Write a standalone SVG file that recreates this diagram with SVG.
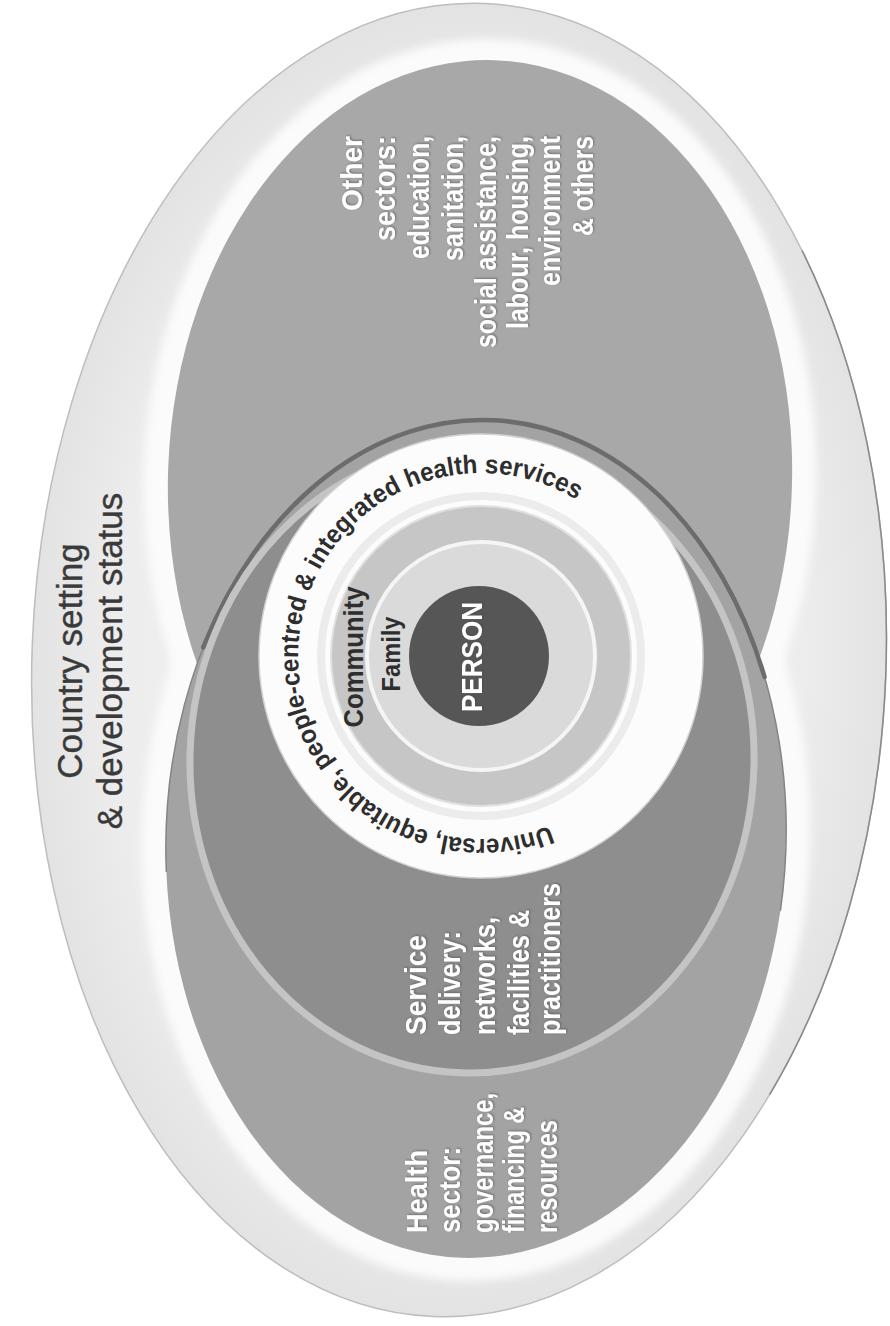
<svg xmlns="http://www.w3.org/2000/svg" width="890" height="1326" viewBox="0 0 890 1326">
  <defs>
    <radialGradient id="outerGrad" cx="50%" cy="50%" r="50%">
      <stop offset="0%" stop-color="#f3f3f3"/>
      <stop offset="80%" stop-color="#ededed"/>
      <stop offset="100%" stop-color="#e3e3e3"/>
    </radialGradient>
    <filter id="soft" x="-10%" y="-10%" width="120%" height="120%">
      <feGaussianBlur stdDeviation="4"/>
    </filter>
    <filter id="shadow" x="-20%" y="-20%" width="140%" height="140%">
      <feDropShadow dx="1" dy="1" stdDeviation="0.8" flood-color="#444" flood-opacity="0.55"/>
    </filter>
    <path id="ringPath" d="M549.6,825.7 A183,183 0 1 1 575.3,499.1"/>
    <style>
      .white-label { font-family: "Liberation Sans", Arial, sans-serif; font-weight: bold; font-size: 30px; fill: #ffffff; filter: url(#shadow); }
      .dark-label { font-family: "Liberation Sans", Arial, sans-serif; font-weight: bold; fill: #2e2e2e; }
      .country-label { font-family: "Liberation Sans", Arial, sans-serif; font-size: 35px; fill: #3a3a3a; stroke: #3a3a3a; stroke-width: 0.4px; }
    </style>
  </defs>

  <rect width="890" height="1326" fill="#ffffff"/>

  <g id="country-setting">
    <ellipse cx="459" cy="660" rx="427" ry="657" fill="url(#outerGrad)" stroke="#bdbdbd" stroke-width="1.5" transform="rotate(2.2 459 660)"/>
    <path d="M786.1,237.6 A427,657 0 0 1 786.1,1082.4" fill="none" stroke="#8a8a8a" stroke-width="1.5" transform="rotate(2.2 459 660)"/>
    <ellipse cx="480" cy="479" rx="336" ry="440" fill="#fbfbfb" filter="url(#soft)" transform="rotate(2 480 479)"/>
    <ellipse cx="476" cy="839" rx="334" ry="442" fill="#fbfbfb" filter="url(#soft)" transform="rotate(2 476 839)"/>
    <g transform="rotate(-90)">
      <text class="country-label" x="-661" y="82" text-anchor="middle">Country setting</text>
      <text class="country-label" x="-661" y="122" text-anchor="middle">&amp; development status</text>
    </g>
  </g>

  <g id="other-sectors">
    <ellipse cx="480" cy="479" rx="312" ry="419" fill="#a8a8a8" transform="rotate(2 480 479)"/>
    <g transform="rotate(-90)">
      <text class="white-label" x="-136" y="362" text-anchor="end" textLength="75" lengthAdjust="spacingAndGlyphs">Other</text>
      <text class="white-label" x="-136" y="395" text-anchor="end" textLength="105" lengthAdjust="spacingAndGlyphs">sectors:</text>
      <text class="white-label" x="-136" y="429" text-anchor="end" textLength="123" lengthAdjust="spacingAndGlyphs">education,</text>
      <text class="white-label" x="-136" y="463" text-anchor="end" textLength="125" lengthAdjust="spacingAndGlyphs">sanitation,</text>
      <text class="white-label" x="-136" y="496" text-anchor="end" textLength="212" lengthAdjust="spacingAndGlyphs">social assistance,</text>
      <text class="white-label" x="-136" y="528" text-anchor="end" textLength="193" lengthAdjust="spacingAndGlyphs">labour, housing,</text>
      <text class="white-label" x="-136" y="560" text-anchor="end" textLength="150" lengthAdjust="spacingAndGlyphs">environment</text>
      <text class="white-label" x="-136" y="593" text-anchor="end" textLength="100" lengthAdjust="spacingAndGlyphs">&amp; others</text>
    </g>
  </g>

  <g id="health-sector">
    <ellipse cx="476" cy="839" rx="310" ry="419" fill="#a3a3a3" transform="rotate(2 476 839)"/>
    <path d="M167.7,882.8 A310,419 0 1 1 782.7,900.2" fill="none" stroke="#858585" stroke-width="1.5" transform="rotate(2 476 839)"/>
    <path d="M196.7,657 A310,419 0 0 1 758.7,667" fill="none" stroke="#6c6c6c" stroke-width="4.5" stroke-linecap="round" transform="rotate(2 476 839)"/>
    <g transform="rotate(-90)">
      <text class="white-label" x="-1233" y="427" textLength="83" lengthAdjust="spacingAndGlyphs">Health</text>
      <text class="white-label" x="-1233" y="460" textLength="86" lengthAdjust="spacingAndGlyphs">sector:</text>
      <text class="white-label" x="-1233" y="493" textLength="140" lengthAdjust="spacingAndGlyphs">governance,</text>
      <text class="white-label" x="-1233" y="524" textLength="126" lengthAdjust="spacingAndGlyphs">financing &amp;</text>
      <text class="white-label" x="-1233" y="557" textLength="113" lengthAdjust="spacingAndGlyphs">resources</text>
    </g>
  </g>

  <g id="service-delivery">
    <ellipse cx="472" cy="760" rx="282" ry="313" fill="#8e8e8e" stroke="#c4c4c4" stroke-width="7" transform="rotate(2 472 760)"/>
    <g transform="rotate(-90)">
      <text class="white-label" x="-1035" y="426" textLength="100" lengthAdjust="spacingAndGlyphs">Service</text>
      <text class="white-label" x="-1035" y="460" textLength="104" lengthAdjust="spacingAndGlyphs">delivery:</text>
      <text class="white-label" x="-1035" y="495" textLength="118" lengthAdjust="spacingAndGlyphs">networks,</text>
      <text class="white-label" x="-1035" y="529" textLength="125" lengthAdjust="spacingAndGlyphs">facilities &amp;</text>
      <text class="white-label" x="-1035" y="560" textLength="152" lengthAdjust="spacingAndGlyphs">practitioners</text>
    </g>
  </g>

  <g id="integrated-services">
    <circle cx="481" cy="656" r="222" fill="#fcfcfc" stroke="#d2d2d2" stroke-width="1.5"/>
    <circle cx="481" cy="656" r="160" fill="none" stroke="#ececec" stroke-width="8"/>
    <text class="dark-label" font-size="26" fill="#1e1e1e">
      <textPath href="#ringPath" textLength="745" lengthAdjust="spacingAndGlyphs">Universal, equitable, people-centred &amp; integrated health services</textPath>
    </text>
  </g>

  <g id="community">
    <circle cx="481" cy="656" r="150" fill="#c6c6c6" stroke="#e0e0e0" stroke-width="2"/>
    <text class="dark-label" font-size="28" transform="translate(363 657) rotate(-90)" text-anchor="middle" textLength="141" lengthAdjust="spacingAndGlyphs">Community</text>
  </g>

  <g id="family">
    <circle cx="481" cy="656" r="114" fill="#dadada" stroke="#f5f5f5" stroke-width="4"/>
    <text class="dark-label" font-size="25" transform="translate(400 654) rotate(-90)" text-anchor="middle" textLength="75" lengthAdjust="spacingAndGlyphs">Family</text>
  </g>

  <g id="person">
    <circle cx="479" cy="656" r="70" fill="#565656"/>
    <text class="white-label" transform="translate(482 657) rotate(-90)" text-anchor="middle" textLength="110" lengthAdjust="spacingAndGlyphs" filter="none">PERSON</text>
  </g>
</svg>
